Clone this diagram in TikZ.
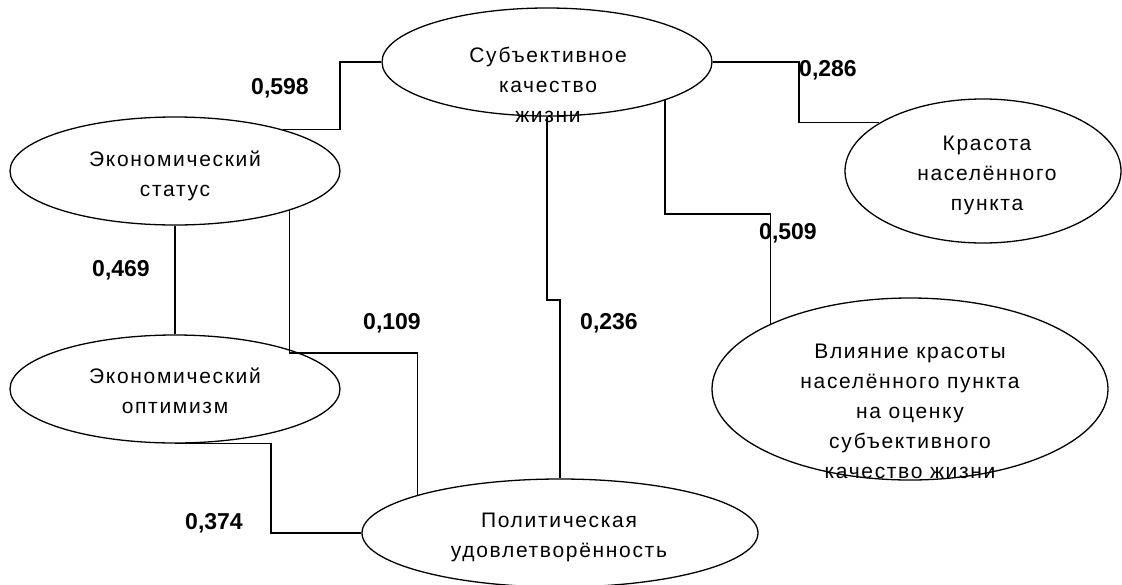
\documentclass[tikz,border=0pt]{standalone}
\usepackage{fontspec}
\setmainfont{Liberation Sans}
\newfontfamily\ovalfont[LetterSpace=8]{Liberation Sans}
\usetikzlibrary{shapes.geometric,positioning,calc}

\begin{document}
\begin{tikzpicture}[
  x=1pt, y=-1pt,
  line width=1.3pt,
  myoval/.style 2 args={
    draw,
    ellipse,
    inner sep=0pt,
    minimum width=#1,
    minimum height=#2
    },
  mytext/.style={
    align=center,
    font=\ovalfont\fontsize{21}{30}\selectfont,
    inner sep=0pt
    },
  myweight/.style={
    font=\bfseries\fontsize{23}{28}\selectfont,
    inner sep=0pt
  }
]
\useasboundingbox (0,0) rectangle (1122,584);

% ovals
\node[myoval={330pt}{108pt}] (subj) at (547,62) {};
\node[myoval={330pt}{108pt}] (econstat) at (175,171) {};
\node[myoval={330pt}{108pt}] (econopt) at (175,389) {};
\node[myoval={396pt}{108pt}] (polit) at (560,533) {};
\node[myoval={276pt}{144pt}] (beauty) at (983,171) {};
\node[myoval={396pt}{182pt}] (influence) at (910,389) {};

\node[mytext] (subjtxt) at (548,85) {Субъективное\\качество\\жизни};
\node[mytext] (econstattxt) at (175,176) {Экономический\\статус};
\node[mytext] (econopttxt) at (175,391) {Экономический\\оптимизм};
\node[mytext] (polittxt) at (559,537) {Политическая\\удовлетворённость};
\node[mytext] (beautytxt) at (987,175) {Красота\\населённого\\пункта};
\node[mytext] (influencetxt) at (910,411)
  {Влияние красоты\\населённого пункта\\на оценку\\субъективного\\качество жизни};

% bends of the connectors
\coordinate (j598) at (340,0);
\coordinate (j286) at (799,0);
\coordinate (j509) at (0,214);
\coordinate (j109) at (0,353);
\coordinate (j236) at (0,300);
\coordinate (j374) at (271,0);

\draw (econstat.21) -| (j598 |- subj.west) -- (subj.west);
\draw (subj.east) -| (j286 |- beauty.155) -- (beauty.155);
\draw (subj.-18) |- (j509 -| influence.155) -- (influence.155);
\draw (econstat.south) -- (econopt.north);
\draw (econstat.-19) |- (j109 -| polit.165) -- (polit.165);
\draw (subj.south) -- (subj.south |- j236) -| (polit.north);
\draw (econopt.south) -| (j374 |- polit.west) -- (polit.west);

% weights
\foreach \Px/\Py/\Valor [count=\Valori] in
  {280/88/0{,}598, 828/70/0{,}286, 788/233/0{,}509, 121/270/0{,}469,
   392/323/0{,}109, 609/323/0{,}236, 214/523/0{,}374}
  \node[myweight] (w\Valori) at (\Px,\Py) {\Valor};

\end{tikzpicture}
\end{document}
